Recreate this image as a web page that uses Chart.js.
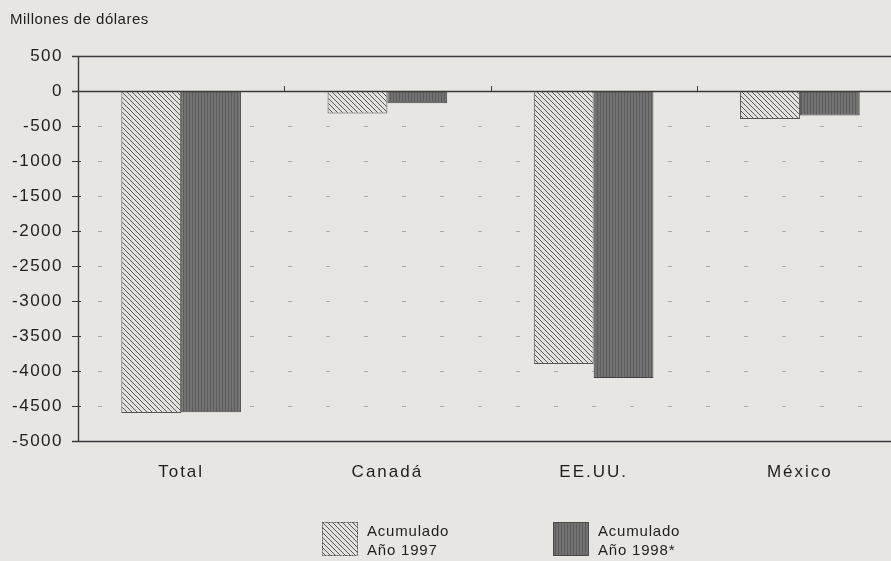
<!DOCTYPE html>
<html><head><meta charset="utf-8">
<script src="https://cdn.jsdelivr.net/npm/chart.js@4.4.0/dist/chart.umd.min.js"></script>
<style>
html,body{margin:0;padding:0;background:#e7e6e3;overflow:hidden;}
#wrap{position:relative;width:905px;height:561px;}
</style></head>
<body><div id="wrap"><canvas id="c" width="905" height="561"></canvas></div>
<script>
const categories = ['Total', 'Canadá', 'EE.UU.', 'México'];
const acumulado1997 = [-4600, -320, -3900, -400];
const acumulado1998 = [-4590, -175, -4100, -350];
const yTicks = [500, 0, -500, -1000, -1500, -2000, -2500, -3000, -3500, -4000, -4500, -5000];
const seriesNames = [['Acumulado', 'Año 1997'], ['Acumulado', 'Año 1998*']];
const axisTitle = 'Millones de dólares';

function hatchPattern() {
  const s = 5, c = document.createElement('canvas');
  c.width = s; c.height = s;
  const x = c.getContext('2d');
  x.fillStyle = '#e2e1de'; x.fillRect(0, 0, s, s);
  x.strokeStyle = '#585858'; x.lineWidth = 1;
  for (let k = -1; k <= 1; k++) {
    x.beginPath(); x.moveTo(k * s, 0); x.lineTo(k * s + s, s); x.stroke();
  }
  return x.createPattern(c, 'repeat');
}
function vertPattern() {
  const c = document.createElement('canvas');
  c.width = 3; c.height = 3;
  const x = c.getContext('2d');
  x.fillStyle = '#727272'; x.fillRect(0, 0, 3, 3);
  x.fillStyle = '#5c5c5c'; x.fillRect(0, 0, 1, 3);
  return x.createPattern(c, 'repeat');
}
const ctx0 = document.getElementById('c').getContext('2d');
const p1 = hatchPattern(), p2 = vertPattern();
const font = 'Liberation Sans, Arial, sans-serif';
const textColor = '#1e1e1e';

function patchSpacing(scale, sp) {
  if (scale._spPatched) return;
  const orig = scale.drawLabels.bind(scale);
  scale.drawLabels = function (area) {
    const c = this.ctx; const prev = c.letterSpacing;
    c.letterSpacing = sp; orig(area); c.letterSpacing = prev || '0px';
  };
  scale._spPatched = true;
}

const customDraw = {
  id: 'customDraw',
  afterLayout(chart) {
    patchSpacing(chart.scales.x, '2px');
    patchSpacing(chart.scales.y, '1.5px');
  },
  beforeDatasetsDraw(chart) {
    const {ctx, chartArea: a, scales: {y}} = chart;
    ctx.save();
    yTicks.forEach(v => {
      if (v === 500 || v === 0 || v === -5000) return;
      const py = Math.round(y.getPixelForValue(v)) + 0.5;
      ctx.strokeStyle = '#adaca9'; ctx.lineWidth = 1; ctx.setLineDash([4, 34]);
      ctx.beginPath(); ctx.moveTo(a.left + 20, py); ctx.lineTo(a.right, py); ctx.stroke();
    });
    ctx.restore();
  },
  afterDatasetsDraw(chart) {
    const {ctx, chartArea: a, scales: {x, y}} = chart;
    ctx.save();
    ctx.strokeStyle = '#3a3a3a'; ctx.lineWidth = 1.4; ctx.setLineDash([]);
    [500, 0, -5000].forEach(v => {
      const py = Math.round(y.getPixelForValue(v)) + 0.5;
      ctx.beginPath(); ctx.moveTo(a.left - 6, py); ctx.lineTo(891, py); ctx.stroke();
    });
    ctx.beginPath(); ctx.moveTo(a.left + 0.5, y.getPixelForValue(500)); ctx.lineTo(a.left + 0.5, y.getPixelForValue(-5000)); ctx.stroke();
    ctx.lineWidth = 1;
    yTicks.forEach(v => {
      const py = Math.round(y.getPixelForValue(v)) + 0.5;
      ctx.beginPath(); ctx.moveTo(a.left - 6, py); ctx.lineTo(a.left + 3, py); ctx.stroke();
    });
    const y0 = Math.round(y.getPixelForValue(0));
    for (let i = 0; i < categories.length - 1; i++) {
      const px = Math.round((x.getPixelForValue(i) + x.getPixelForValue(i + 1)) / 2) + 0.5;
      ctx.beginPath(); ctx.moveTo(px, y0 - 5); ctx.lineTo(px, y0); ctx.stroke();
    }
    // axis title
    ctx.fillStyle = textColor;
    ctx.font = '15px ' + font;
    ctx.letterSpacing = '0.5px';
    ctx.textBaseline = 'middle'; ctx.textAlign = 'left';
    ctx.fillText(axisTitle, 10, 20);
    // legend
    const boxes = [[322, p1, '#555', [2, 1]], [553, p2, '#4a4a4a', []]];
    boxes.forEach((b, i) => {
      const [bx, pat, bc, dash] = b;
      ctx.fillStyle = pat; ctx.fillRect(bx, 522, 36, 34);
      ctx.strokeStyle = bc; ctx.setLineDash(dash); ctx.lineWidth = 1;
      ctx.strokeRect(bx + 0.5, 522.5, 35, 33);
      ctx.setLineDash([]);
      ctx.fillStyle = textColor; ctx.font = '15px ' + font;
      ctx.letterSpacing = '0.8px';
      ctx.fillText(seriesNames[i][0], bx + 45, 532);
      ctx.fillText(seriesNames[i][1], bx + 45, 551);
    });
    ctx.letterSpacing = '0px';
    ctx.restore();
  }
};

new Chart(ctx0, {
  type: 'bar',
  data: {
    labels: categories,
    datasets: [
      {label: seriesNames[0].join(' '), data: acumulado1997, backgroundColor: p1, borderColor: '#555', borderWidth: 1, borderSkipped: 'start'},
      {label: seriesNames[1].join(' '), data: acumulado1998, backgroundColor: p2, borderColor: '#444', borderWidth: 1, borderSkipped: 'start'}
    ]
  },
  options: {
    responsive: false, animation: false,
    layout: {padding: {top: 56, left: 0, right: 2, bottom: 0}},
    plugins: {legend: {display: false}, tooltip: {enabled: false}},
    datasets: {bar: {categoryPercentage: 0.58, barPercentage: 1}},
    scales: {
      x: {
        grid: {display: false, drawTicks: false}, border: {display: false},
        ticks: {color: textColor, font: {family: font, size: 17}, padding: 21},
        afterFit(s) { s.height = 120; }
      },
      y: {
        min: -5000, max: 500,
        afterBuildTicks(s) { s.ticks = yTicks.map(v => ({value: v})); },
        grid: {display: false, drawTicks: false}, border: {display: false},
        ticks: {color: textColor, font: {family: font, size: 17}, padding: 15, callback: v => String(v)},
        afterFit(s) { s.width = 78; }
      }
    }
  },
  plugins: [customDraw]
});
</script></body></html>
